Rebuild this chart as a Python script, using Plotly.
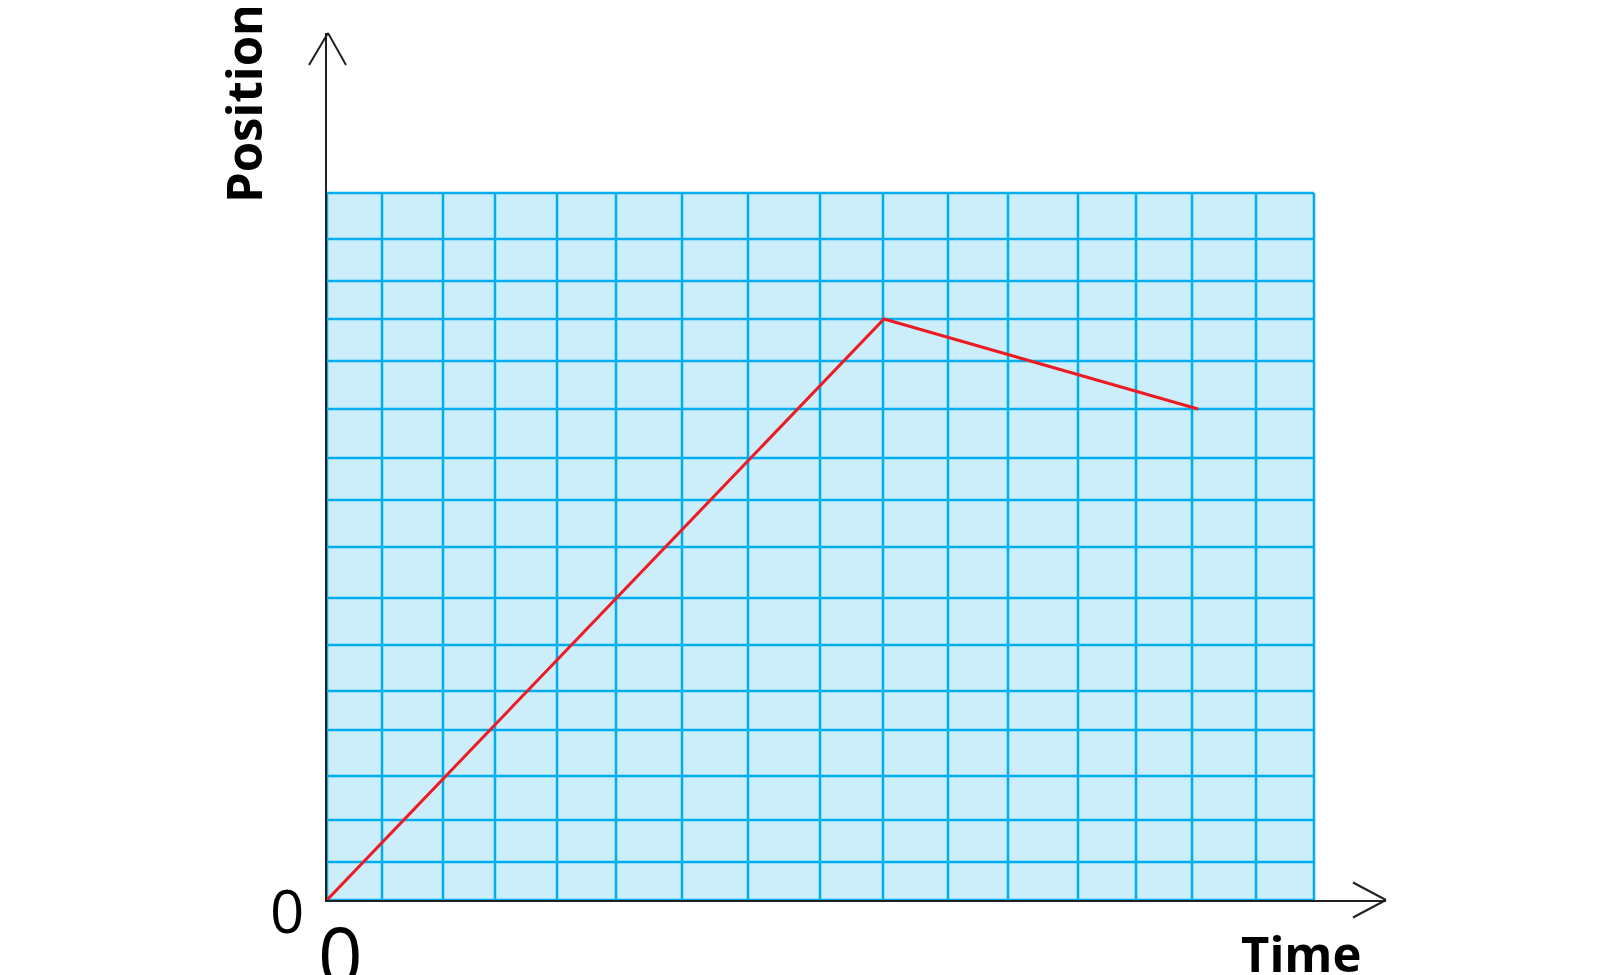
import plotly.graph_objects as go

# position-time graph, units chosen so the grid reads like the drawing
time_grid = [0, 55, 116, 168, 230, 289, 355, 421, 493, 556, 621, 681, 751, 809, 865, 929, 987]
position_grid = [0, 38, 80, 124, 170, 209, 255, 302, 353, 400, 442, 491, 539, 581, 619, 661, 707]

time_vals = [0, 557, 871]
position_vals = [0, 581, 491]

x_max = 1059
y_max = 867

grid_color = '#00AEEF'
paper_color = '#CCEEFA'
axis_color = '#231F20'


def px(v):
    return v / x_max


def py(v):
    return v / y_max


shapes = [dict(type='rect', xref='x', yref='y', x0=0, y0=0,
               x1=time_grid[-1], y1=position_grid[-1],
               fillcolor=paper_color, line=dict(width=0), layer='below')]
for t in time_grid:
    shapes.append(dict(type='line', xref='x', yref='y', x0=t, x1=t,
                       y0=0, y1=position_grid[-1],
                       line=dict(color=grid_color, width=2.5), layer='below'))
for p in position_grid:
    shapes.append(dict(type='line', xref='x', yref='y', x0=0, x1=time_grid[-1],
                       y0=p, y1=p,
                       line=dict(color=grid_color, width=2.5), layer='below'))

# open arrow heads at the ends of the axes
arrow = dict(color=axis_color, width=2)
for dx, dy in [(-19, -32), (18, -32)]:
    shapes.append(dict(type='line', xref='paper', yref='paper',
                       x0=px(1), y0=1, x1=px(1 + dx), y1=py(y_max + dy), line=arrow))
for dx, dy in [(-33, 17.5), (-33, -17.5)]:
    shapes.append(dict(type='line', xref='paper', yref='paper',
                       x0=1, y0=0, x1=px(x_max + dx), y1=py(dy), line=arrow))

line = go.Scatter(x=time_vals, y=position_vals, mode='lines',
                  line=dict(color='#ED1C24', width=3), hoverinfo='skip',
                  cliponaxis=False)

label = dict(xref='paper', yref='paper', xanchor='center', yanchor='middle',
             showarrow=False)
annotations = [
    dict(label, text='<b>Position</b>', x=px(-84), y=py(796), textangle=-90,
         font=dict(family='Open Sans', size=49, color='black')),
    dict(label, text='<b>Time</b>', x=px(974), y=py(-53),
         font=dict(family='Open Sans', size=49, color='black')),
    dict(label, text='0', x=px(-40), y=py(-10),
         font=dict(family='Open Sans', size=60, color='black')),
    dict(label, text='0', x=px(13), y=py(-54),
         font=dict(family='Open Sans', size=78, color='black')),
]

layout = go.Layout(
    width=1600,
    height=975,
    margin=dict(l=319, r=222, t=25, b=83),
    paper_bgcolor='white',
    plot_bgcolor='white',
    showlegend=False,
    xaxis=dict(range=[0, x_max], showgrid=False, zeroline=False, showticklabels=False,
               ticks='', showline=True, linecolor=axis_color, linewidth=2, fixedrange=True),
    yaxis=dict(range=[0, y_max], showgrid=False, zeroline=False, showticklabels=False,
               ticks='', showline=True, linecolor=axis_color, linewidth=2, fixedrange=True),
    shapes=shapes,
    annotations=annotations,
)

fig = go.Figure(data=[line], layout=layout)
fig.write_html('out.html', config=dict(displayModeBar=False))
